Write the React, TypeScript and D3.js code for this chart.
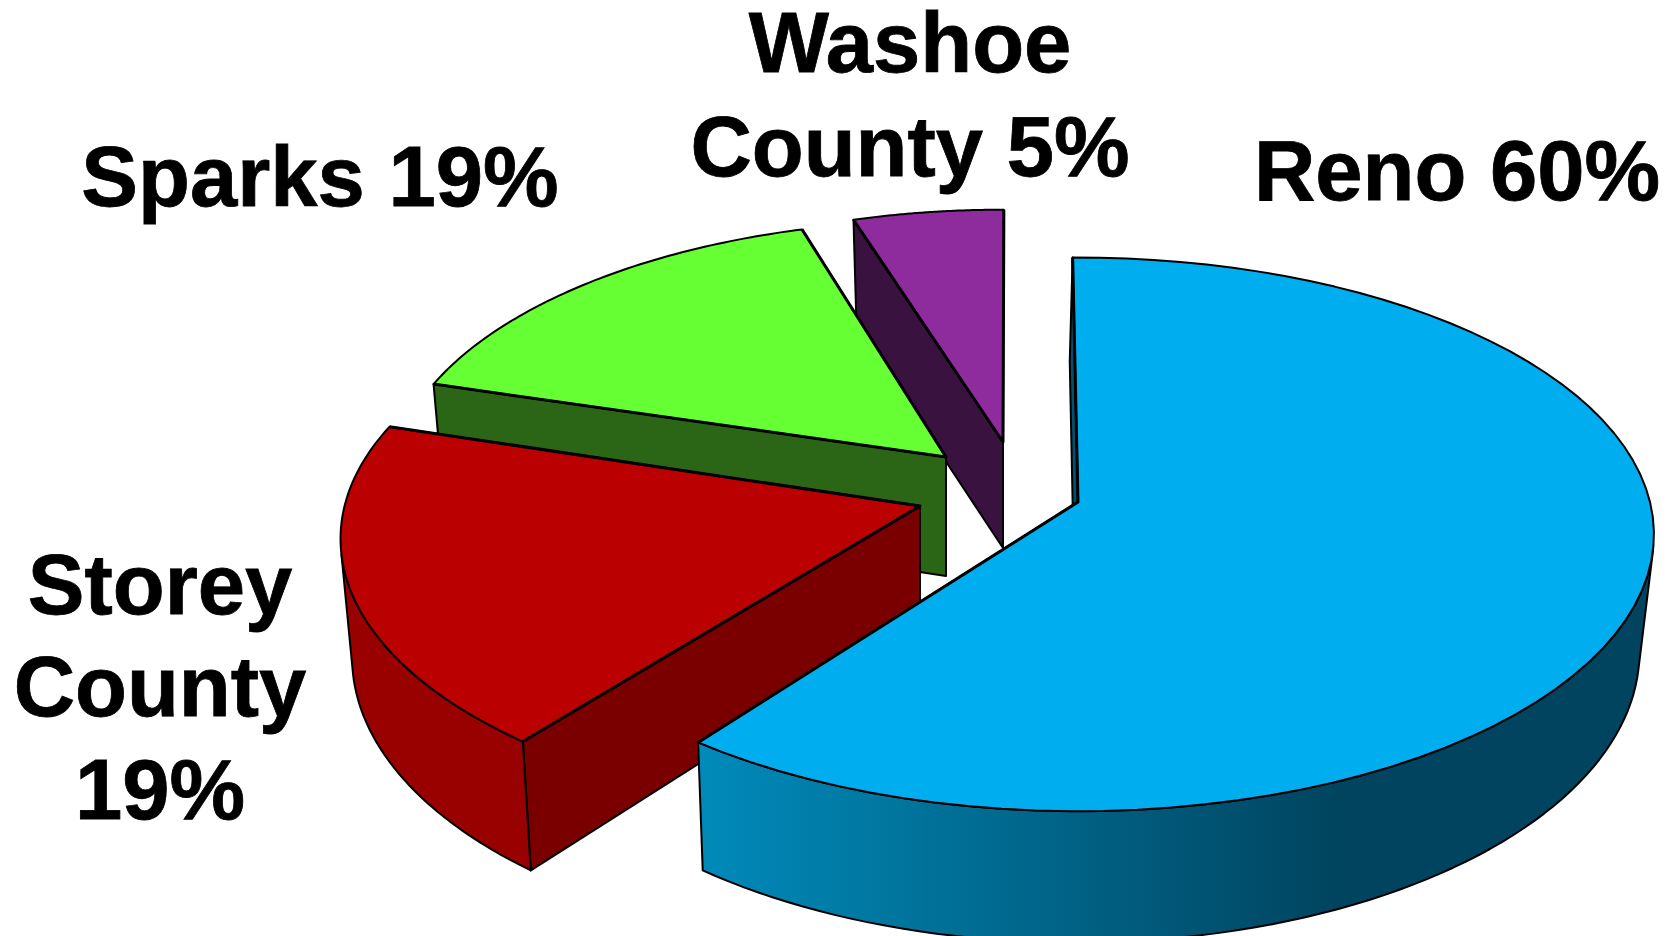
import React from "react";
import * as d3 from "d3";

// Shares as drawn in the picture (percent of the circle), and the printed labels.
const categories = ["Reno", "Storey County", "Sparks", "Washoe County"];
const shares = [60.45, 19.55, 15.5, 4.5];
const labelLines = [["Reno 60%"], ["Storey", "County", "19%"], ["Sparks 19%"], ["Washoe", "County 5%"]];
const topColors = ["#00aeef", "#ba0000", "#66ff33", "#8e2b9d"];
const wallColors = ["url(#renoWall)", "#990000", "#2a6615", "#3a123f"];
const radialColors = ["#00506f", "#7a0000", "#2a6615", "#3a123f"];

const W = 1672, H = 936;
const R = 572, RY = 273, P = 0.117;
const RAD = Math.PI / 180;

// per-slice layout, by category index
const layout = [
  { cx: 1078, cy: 502, rad: 1, depth: 116, tilt: 0, shift: -3, wall: [100, 218], startNudge: 0, endNudge: 0 },
  { cx: 920, cy: 506, rad: 1.006, depth: 117, tilt: 0, shift: 0, wall: [219, 260], startNudge: 1.8, endNudge: 0 },
  { cx: 946, cy: 457, rad: 0.965, depth: 119, tilt: 0, shift: 0, wall: null, startNudge: -0.8, endNudge: 0 },
  { cx: 1003, cy: 442, rad: 0.945, depth: 106, tilt: -0.12, shift: 0, wall: null, startNudge: -1, endNudge: 0.7 },
];
const labelPos = [
  { x: 1457, y: [200] },
  { x: 160, y: [614, 716, 819] },
  { x: 320, y: [206] },
  { x: 910, y: [72, 176] },
];

const pieGen = d3.pie<number>().value((d) => d).sort(null)
  .startAngle(-0.6 * RAD).endAngle(359.4 * RAD);
const arcs = pieGen(shares);

type Pt = [number, number];
const line = d3.line<Pt>();

function topPt(i: number, theta: number, rad = layout[i].rad): Pt {
  const l = layout[i];
  const u = Math.sin(theta) * rad, v = -Math.cos(theta) * rad;
  const f = 1 / (1 - P * v);
  return [l.cx + R * u * f, l.cy + RY * v * f];
}
function bottomPt(i: number, theta: number, rad = layout[i].rad): Pt {
  const l = layout[i];
  const v = -Math.cos(theta) * rad;
  const f = 1 / (1 - P * v);
  const [x, y] = topPt(i, theta, rad);
  return [l.cx + l.shift + (x - l.cx) * 0.98, y + l.depth * f * (1 + l.tilt * v)];
}
function sample(a0: number, a1: number): number[] {
  const scale = d3.scaleLinear().domain([0, 72]).range([a0, a1]);
  return d3.range(0, 73).map((k) => scale(k));
}

export default function App() {
  const order = [3, 2, 1, 0];
  return (
    <svg width={W} height={H} viewBox={`0 0 ${W} ${H}`}
      style={{ position: "absolute", left: 0, top: 0, display: "block", background: "#fff" }}>
      <defs>
        <linearGradient id="renoWall" gradientUnits="userSpaceOnUse" x1={700} x2={1340} y1={0} y2={0}>
          <stop offset="0" stopColor="#008aba" />
          <stop offset="0.3" stopColor="#00769f" />
          <stop offset="1" stopColor="#00445f" />
        </linearGradient>
      </defs>
      {order.map((i) => {
        const a = arcs[i];
        const l = layout[i];
        const start = a.startAngle + l.startNudge * RAD;
        const end = a.endAngle + l.endNudge * RAD;
        const topArc = sample(start, end).map((t) => topPt(i, t));
        const apex = topPt(i, 0, 0);
        const apexB = bottomPt(i, 0, 0);
        const corner = topPt(i, start);
        const cornerB = bottomPt(i, start);
        const radial: Pt[] = [corner, apex, apexB, cornerB];
        let wall: Pt[] | null = null;
        if (l.wall) {
          const th = sample(
            i === 0 ? l.wall[0] * RAD : start,
            i === 0 ? end : l.wall[1] * RAD
          );
          wall = [...th.map((t) => topPt(i, t)), ...th.slice().reverse().map((t) => bottomPt(i, t))];
        }
        return (
          <g key={categories[i]} stroke="#000" strokeWidth={2} strokeLinejoin="round">
            <path d={line(radial) + "Z"} fill={radialColors[i]} />
            {wall && <path d={line(wall) + "Z"} fill={wallColors[i]} />}
            <path d={line([apex, ...topArc]) + "Z"} fill={topColors[i]} />
            <path d={line([corner, apex, topPt(i, end)]) ?? ""} fill="none" strokeWidth={3} />
          </g>
        );
      })}
      <g fontFamily="'Liberation Sans', Arial, sans-serif" fontWeight={700} fontSize={85}
        textAnchor="middle" fill="#000" stroke="#000" strokeWidth={0.8}>
        {labelLines.map((lines, i) =>
          lines.map((t, j) => (
            <text key={t + i} x={labelPos[i].x} y={labelPos[i].y[j]}>{t}</text>
          ))
        )}
      </g>
    </svg>
  );
}
